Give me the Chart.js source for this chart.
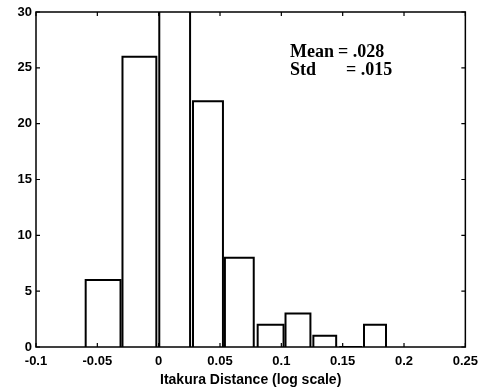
<!DOCTYPE html>
<html>
<head>
<meta charset="utf-8">
<script src="https://cdn.jsdelivr.net/npm/chart.js@4"></script>
<style>
  html, body { margin: 0; padding: 0; background: #fff; }
  canvas { display: block; }
</style>
</head>
<body>
<canvas id="histChart" width="485" height="392"></canvas>
<script>
// histogram bins (edges) and counts
const binLeft  = [-0.0595, -0.0295, 0.0005, 0.0280, 0.0540, 0.0807, 0.1034, 0.1261, 0.1472, 0.1674];
const binRight = [-0.0311, -0.0019, 0.0256, 0.0524, 0.0775, 0.1018, 0.1237, 0.1447, 0.1658, 0.1853];
const counts   = [6, 26, 33, 22, 8, 2, 3, 1, 0, 2];

const xTicks = [-0.1, -0.05, 0, 0.05, 0.1, 0.15, 0.2, 0.25];
const yTicks = [0, 5, 10, 15, 20, 25, 30];

const statLines = [['Mean', '= .028'], ['Std', '= .015']];

const tickFont = { family: 'Liberation Sans, Arial, sans-serif', size: 13, weight: 'bold' };
const titleFont = { family: 'Liberation Sans, Arial, sans-serif', size: 14, weight: 'bold' };

// one outline per bar
const datasets = counts.map((c, i) => ({
  data: [
    { x: binLeft[i], y: 0 },
    { x: binLeft[i], y: c },
    { x: binRight[i], y: c },
    { x: binRight[i], y: 0 }
  ],
  showLine: true,
  borderColor: '#000',
  borderWidth: 2,
  pointRadius: 0,
  tension: 0
}));

// box + inward ticks + stats text
const framePlugin = {
  id: 'frame',
  afterDraw(chart) {
    const { ctx, chartArea: a, scales } = chart;
    ctx.save();
    ctx.strokeStyle = '#000';
    ctx.lineWidth = 1.5;
    ctx.strokeRect(a.left, a.top, a.right - a.left, a.bottom - a.top);

    ctx.lineWidth = 1.2;
    ctx.beginPath();
    xTicks.forEach(v => {
      const px = scales.x.getPixelForValue(v);
      ctx.moveTo(px, a.bottom); ctx.lineTo(px, a.bottom - 4);
      ctx.moveTo(px, a.top); ctx.lineTo(px, a.top + 4);
    });
    yTicks.forEach(v => {
      const py = scales.y.getPixelForValue(v);
      ctx.moveTo(a.left, py); ctx.lineTo(a.left + 4, py);
      ctx.moveTo(a.right, py); ctx.lineTo(a.right - 4, py);
    });
    ctx.stroke();

    ctx.fillStyle = '#000';
    ctx.font = 'bold 18px "Liberation Serif", "Times New Roman", serif';
    ctx.textBaseline = 'alphabetic';
    ctx.textAlign = 'left';
    ctx.fillText(statLines[0][0], a.left + 254, a.top + 45);
    ctx.fillText(statLines[0][1], a.left + 302, a.top + 45);
    ctx.fillText(statLines[1][0], a.left + 254, a.top + 63);
    ctx.fillText(statLines[1][1], a.left + 310, a.top + 63);
    ctx.restore();
  }
};

new Chart(document.getElementById('histChart').getContext('2d'), {
  type: 'scatter',
  data: { datasets },
  options: {
    responsive: false,
    animation: false,
    layout: { padding: { top: 12, right: 16, left: 0, bottom: 0 } },
    plugins: {
      legend: { display: false },
      tooltip: { enabled: false }
    },
    scales: {
      x: {
        type: 'linear',
        min: -0.1,
        max: 0.25,
        afterBuildTicks: s => { s.ticks = xTicks.map(v => ({ value: v })); },
        afterFit: s => { s.height = 45; },
        ticks: {
          color: '#000',
          font: tickFont,
          padding: 7,
          maxRotation: 0,
          callback: v => Number(v.toFixed(2)).toString()
        },
        grid: { drawOnChartArea: false, drawTicks: false },
        border: { display: false },
        title: {
          display: true,
          text: 'Itakura Distance (log scale)',
          color: '#000',
          font: titleFont,
          padding: { top: 2, bottom: 3 }
        }
      },
      y: {
        min: 0,
        max: 30,
        afterBuildTicks: s => { s.ticks = yTicks.map(v => ({ value: v })); },
        afterFit: s => { s.width = 36; },
        ticks: { color: '#000', font: tickFont, padding: 4 },
        grid: { drawOnChartArea: false, drawTicks: false },
        border: { display: false }
      }
    }
  },
  plugins: [framePlugin]
});
</script>
</body>
</html>
